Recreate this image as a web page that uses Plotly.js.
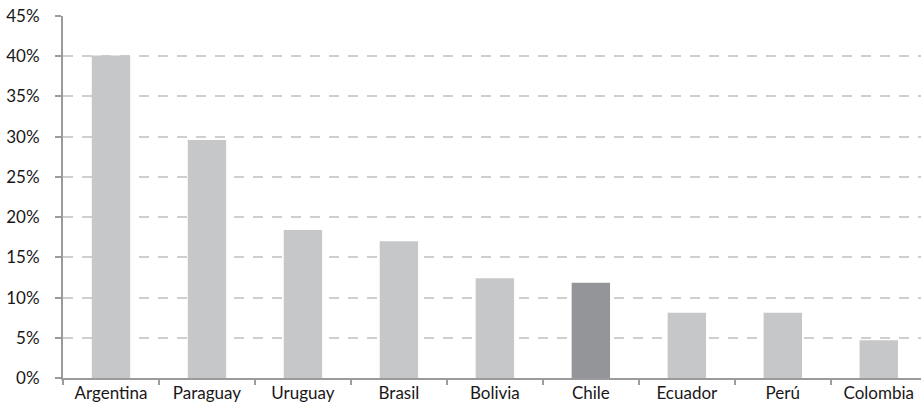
<!DOCTYPE html>
<html>
<head>
<meta charset="utf-8">
<script src="https://cdn.plot.ly/plotly-3.0.1.min.js"></script>
<style>
  html, body { margin: 0; padding: 0; background: #ffffff; }
  #chart { width: 921px; height: 406px; }
</style>
</head>
<body>
<div id="chart"></div>
<script>
// Share by country (%)
const countries = ["Argentina", "Paraguay", "Uruguay", "Brasil", "Bolivia", "Chile", "Ecuador", "Perú", "Colombia"];
const shares = [40.1, 29.6, 18.4, 17.0, 12.4, 11.85, 8.1, 8.1, 4.7];
const highlighted = "Chile";
const yTicks = [0, 5, 10, 15, 20, 25, 30, 35, 40, 45];
const yTickLabels = ["0%", "5%", "10%", "15%", "20%", "25%", "30%", "35%", "40%", "45%"];

const barColors = countries.map(c => c === highlighted ? "#939598" : "#c6c7c8");

const trace = {
  type: "bar",
  x: countries,
  y: shares,
  width: 0.4,
  marker: { color: barColors, line: { width: 0 } },
  hoverinfo: "x+y"
};

const font = "Lato, 'Open Sans', 'DejaVu Sans', sans-serif";

const layout = {
  width: 921,
  height: 406,
  margin: { l: 63, r: 0, t: 16, b: 28, pad: 0 },
  paper_bgcolor: "#ffffff",
  plot_bgcolor: "#ffffff",
  showlegend: false,
  bargap: 0.6,
  font: { family: font, size: 17, color: "#1a1718" },
  xaxis: {
    type: "category",
    range: [-0.5, 8.44],
    showline: true,
    linecolor: "#9a9b9d",
    linewidth: 2,
    showgrid: false,
    zeroline: false,
    ticks: "outside",
    tickson: "boundaries",
    ticklen: 5,
    tickwidth: 2,
    tickcolor: "#9a9b9d",
    ticklabelstandoff: -1,
    tickfont: { family: font, size: 17, color: "#1a1718" },
    fixedrange: true
  },
  yaxis: {
    range: [0, 45],
    tickvals: yTicks,
    ticktext: yTickLabels,
    showline: true,
    linecolor: "#9a9b9d",
    linewidth: 2,
    showgrid: true,
    gridcolor: "#cfcfcf",
    gridwidth: 2,
    griddash: "10px,9px",
    zeroline: false,
    ticks: "outside",
    ticklen: 6,
    tickwidth: 2,
    tickcolor: "#9a9b9d",
    ticklabelstandoff: 12,
    tickfont: { family: font, size: 17, color: "#1a1718" },
    fixedrange: true
  }
};

Plotly.newPlot("chart", [trace], layout, { displayModeBar: false, staticPlot: true });
</script>
</body>
</html>
